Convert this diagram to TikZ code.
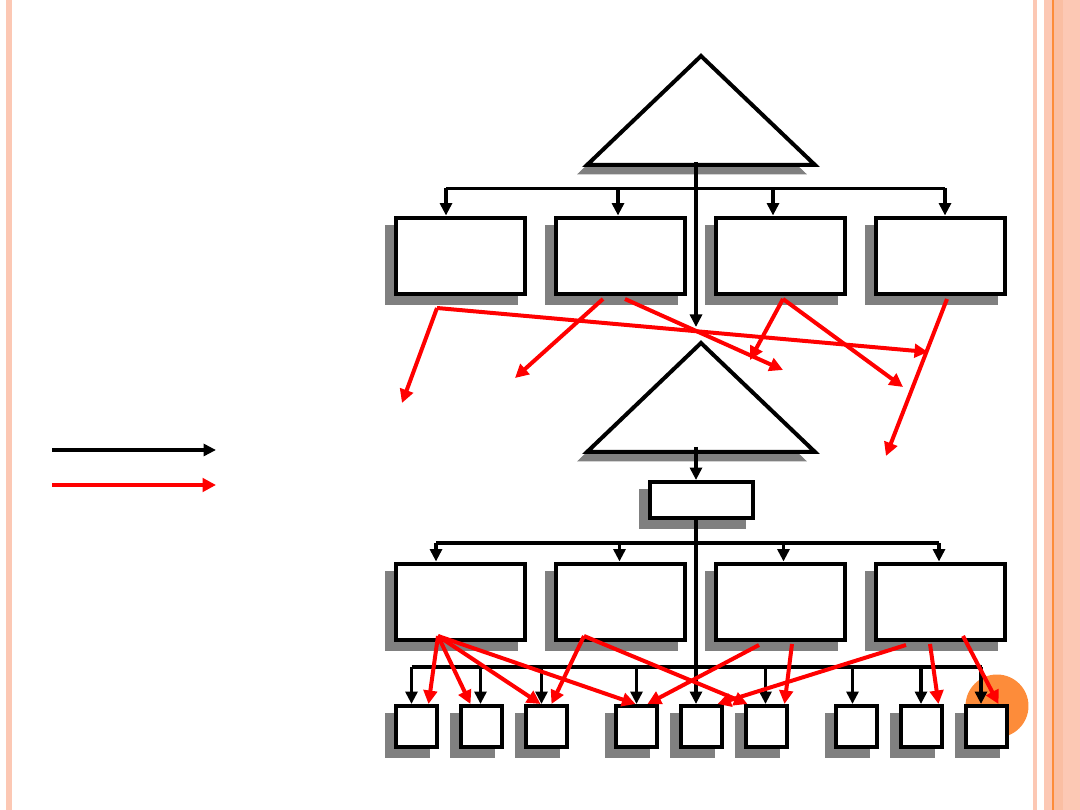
\documentclass[tikz,border=0pt]{standalone}
\usepackage{tikz}
\usetikzlibrary{arrows.meta, calc, positioning, shadows}
\usepackage{xcolor}
\definecolor{mPale}{RGB}{252,200,180}
\definecolor{mPeach}{RGB}{250,190,162}
\definecolor{mOrange}{RGB}{253,140,58}
\definecolor{mShade}{HTML}{808080}
\tikzset{
  shade box/.style={drop shadow={shadow xshift=-0.18cm, shadow yshift=-0.18cm,
                    opacity=1, fill=mShade, draw=mShade}},
}

\begin{document}
\begin{tikzpicture}[x=0.02cm, y=-0.02cm,
  box/.style={draw, line width=0.08cm, fill=white, inner sep=0pt,
              minimum width=2.58cm, minimum height=1.54cm, shade box},
  hubbox/.style={box, minimum width=2.06cm, minimum height=0.72cm},
  cell/.style={box, minimum width=0.82cm, minimum height=0.82cm},
  tri/.style={draw, line width=0.08cm, fill=white, shade box},
  bus/.style={line width=0.072cm},
  link/.style={bus, -{Triangle[length=0.25cm, width=0.24cm]}},
  hot/.style={red, line width=0.08cm, -{Triangle[length=0.27cm, width=0.27cm]}}]
  \useasboundingbox (0,0) rectangle (1080,810);
  \fill[white] (0,0) rectangle (1080,810);
  % page frame
  \fill[mPale] (6,0) rectangle (12,810);
  \fill[mPale] (1033,0) rectangle (1037,810);
  \fill[mPale] (1044,0) rectangle (1080,810);
  \fill[mPeach] (1054,0) rectangle (1063,810);
  \fill[mOrange] (1052,0) rectangle (1054,810);
  \fill[mOrange] (997,706) circle[radius=0.63cm];

  % the two triangles
  \draw[tri] (701,56) -- (815,165) -- (587,165) -- cycle;
  \draw[tri] (701,343) -- (815,452) -- (587,452) -- cycle;

  % boxes
  \foreach \i/\x in {1/460.5, 2/620.5, 3/780.5, 4/940.5} {
    \node[box] (a\i) at (\x,256) {};
    \node[box] (b\i) at (\x,602) {};
  }
  \node[hubbox] (hub) at (701.5,500) {};
  \foreach \i/\x in {1/416.5, 2/481.5, 3/546.5, 4/636.5, 5/701.5,
                     6/766.5, 7/856.5, 8/921.5, 9/986.5}
    \node[cell] (c\i) at (\x,726.5) {};

  \coordinate (tri1) at (696,162);
  \coordinate (tip1) at (696,327);
  \coordinate (tri2) at (696,447);
  \coordinate (bus1) at (0,188.5);
  \coordinate (bus2) at (0,543);
  \coordinate (bus3) at (0,667);

  % black spine
  \draw[link] (tri1) -- (tip1);
  \draw[link] (tri2) -- ($(hub.north)+(-5.5,0)$);
  \draw[link] ($(hub.south)+(-5.5,0)$) -- ($(c5.north)+(-5.5,0)$);

  % black buses
  \draw[bus] ($(a1.north |- bus1)+(-14.5,0)$) -- ($(a4.north |- bus1)+(4.5,0)$);
  \foreach \i/\d in {1/-14.5, 2/-2.5, 3/-7.5, 4/4.5}
    \draw[link] ($(a\i.north |- bus1)+(\d,0)$) -- ($(a\i.north)+(\d,0)$);
  \draw[bus] ($(b1.north |- bus2)+(-24.5,0)$) -- ($(b4.north |- bus2)+(-1.5,0)$);
  \foreach \i/\d in {1/-24.5, 2/-1, 3/3, 4/-1.5}
    \draw[link] ($(b\i.north |- bus2)+(\d,0)$) -- ($(b\i.north)+(\d,0)$);
  \draw[bus] ($(c1.north |- bus3)+(-5,0)$) -- ($(c9.north |- bus3)+(-5,0)$);
  \foreach \i/\d in {1/-5, 2/-1, 3/-5, 4/0, 6/-1, 7/-4, 8/-0.5, 9/-5.5}
    \draw[link] ($(c\i.north |- bus3)+(\d,0)$) -- ($(c\i.north)+(\d,0)$);

  % red links, upper part
  \coordinate (q1) at (437,308);
  \coordinate (q2) at (603,299);
  \coordinate (q3) at (625,299);
  \coordinate (q4) at (783,299);
  \coordinate (q5) at (947,299);
  \coordinate (e1) at (402,403);
  \coordinate (e2) at (928,352);
  \coordinate (e3) at (515,378);
  \coordinate (e4) at (783,370);
  \coordinate (e5) at (750,360);
  \coordinate (e6) at (903,387);
  \coordinate (e7) at (886,456);
  \foreach \s/\t in {q1/e1, q1/e2, q2/e3, q3/e4, q4/e5, q4/e6, q5/e7}
    \draw[hot] (\s) -- (\t);

  % red links, lower part
  \coordinate (p1) at (438,636);
  \coordinate (p2) at (584,636);
  \coordinate (p3) at (759,645);
  \coordinate (p4) at (792,644);
  \coordinate (p5) at (906,645);
  \coordinate (p6) at (930,644);
  \coordinate (p7) at (963,636);
  \foreach \s/\c/\d in {p1/1/12, p1/2/-11, p1/3/-6, p1/4/-1, p2/3/5, p2/6/-19,
                        p3/4/11, p4/6/18, p5/5/16, p6/8/17, p7/9/12}
    \draw[hot] (\s) -- ($(c\c.north)+(\d,0)$);

  % legend
  \coordinate (k1) at (52,450);
  \coordinate (k2) at (216,450);
  \coordinate (k3) at (52,485);
  \coordinate (k4) at (216,485);
  \draw[link] (k1) -- (k2);
  \draw[hot, line width=0.07cm] (k3) -- (k4);
\end{tikzpicture}
\end{document}
